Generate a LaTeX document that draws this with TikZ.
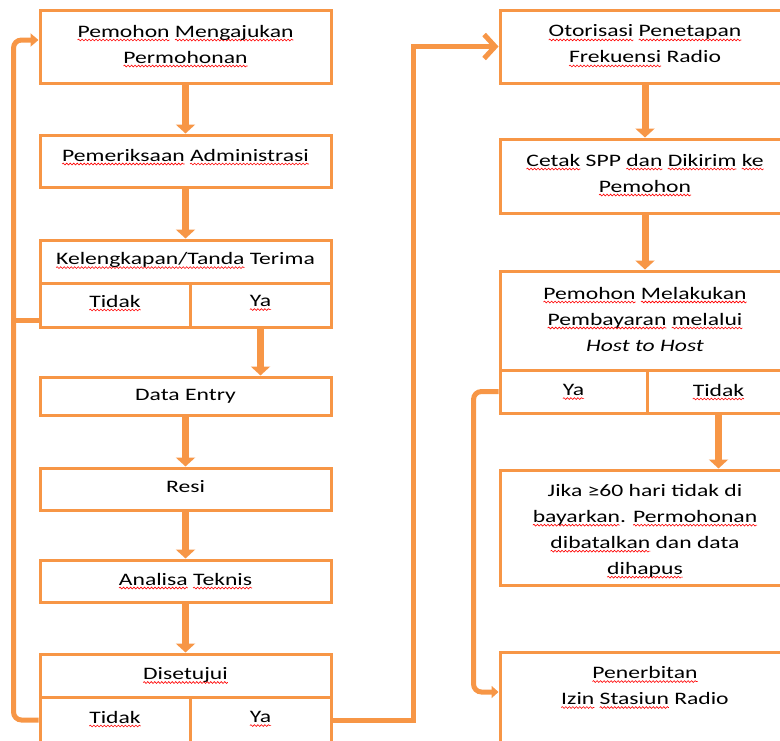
\documentclass[tikz,border=0pt]{standalone}
\usepackage{fontspec}
\setmainfont[FakeStretch=1.35]{Carlito}
\usetikzlibrary{arrows.meta,decorations.pathmorphing}
\definecolor{acc}{HTML}{F79646}
\newcommand\sq[1]{\leavevmode\setbox0=\hbox{#1}\rlap{\tikz[overlay]\draw[red, line width=0.6pt, decorate, decoration={snake, amplitude=0.9pt, segment length=3.5pt}] (0pt,-3pt) -- (\wd0,-3pt);}\box0\relax}
\tikzset{
  box/.style={draw=acc, line width=3pt, fill=white, inner sep=0pt},
  txt/.style={font=\fontsize{17.5}{26}\selectfont, align=center, inner sep=0pt, text=black},
  flow/.style={draw=acc, line width=7pt, -{Triangle[length=9pt,width=19pt]}},
  loopline/.style={draw=acc, line width=5pt, rounded corners=8pt},
  sharpline/.style={draw=acc, line width=5pt},
}
\begin{document}
\begin{tikzpicture}[x=1pt,y=-1pt]
\useasboundingbox (0,0) rectangle (780,740);
\clip (0,0) rectangle (780,740);
% ---------- left column ----------
\node[box, minimum width=291pt, minimum height=73pt] (b1) at (185.5,46.5) {};
\node[txt] (t1) at (185.5,44) {\sq{Pemohon} \sq{Mengajukan}\\\sq{Permohonan}};
\node[box, minimum width=291pt, minimum height=52pt] (b2) at (185.5,161) {};
\node[txt] (t2) at (185.5,155) {\sq{Pemeriksaan} \sq{Administrasi}};
\node[box, minimum width=291pt, minimum height=43pt] (k3h) at (185.5,261.5) {};
\node[txt] (t3) at (185.5,260) {\sq{Kelengkapan/Tanda} Terima};
\node[box, minimum width=150pt, minimum height=44pt] (k3t) at (115,305) {};
\node[txt] (t3t) at (115,301) {\sq{Tidak}};
\node[box, minimum width=141pt, minimum height=44pt] (k3y) at (260.5,305) {};
\node[txt] (t3y) at (260.5,301) {\sq{Ya}};
\node[box, minimum width=291pt, minimum height=38pt] (de) at (185.5,396) {};
\node[txt] (tde) at (185.5,396) {Data Entry};
\node[box, minimum width=291pt, minimum height=42pt] (resi) at (185.5,489) {};
\node[txt] (tresi) at (185.5,487) {Resi};
\node[box, minimum width=291pt, minimum height=42pt] (at) at (185.5,581) {};
\node[txt] (tat) at (185.5,579) {\sq{Analisa} \sq{Teknis}};
\node[box, minimum width=291pt, minimum height=43pt] (dh) at (185.5,675.5) {};
\node[txt] (tdh) at (185.5,675) {\sq{Disetujui}};
\node[box, minimum width=150pt, minimum height=46pt] (dt) at (115,720) {};
\node[txt] (tdt) at (115,717) {\sq{Tidak}};
\node[box, minimum width=141pt, minimum height=46pt] (dy) at (260.5,720) {};
\node[txt] (tdy) at (260.5,717) {\sq{Ya}};
% ---------- right column ----------
\node[box, minimum width=290pt, minimum height=73pt] (r1) at (645,46.5) {};
\node[txt] (tr1) at (645,44) {\sq{Otorisasi} \sq{Penetapan}\\\sq{Frekuensi} Radio};
\node[box, minimum width=290pt, minimum height=74pt] (r2) at (645,176) {};
\node[txt] (tr2) at (645,173) {\sq{Cetak} SPP \sq{dan} \sq{Dikirim} \sq{ke}\\\sq{Pemohon}};
\node[box, minimum width=290pt, minimum height=99pt] (r3h) at (645,320.5) {};
\node[txt] (tr3) at (645,319) {\sq{Pemohon} \sq{Melakukan}\\\sq{Pembayaran} \sq{melalui}\\\textit{Host to Host}};
\node[box, minimum width=147pt, minimum height=43pt] (r3y) at (573.5,391.5) {};
\node[txt] (tr3y) at (573.5,390) {\sq{Ya}};
\node[box, minimum width=143pt, minimum height=43pt] (r3t) at (718.5,391.5) {};
\node[txt] (tr3t) at (718.5,390) {\sq{Tidak}};
\node[box, minimum width=290pt, minimum height=115pt] (r4) at (645,527.5) {};
\node[txt] (tr4) at (645,530.5) {\frenchspacing Jika ≥60 hari tidak di\\\sq{bayarkan}. \sq{Permohonan}\\\sq{dibatalkan} dan data\\\sq{dihapus}};
\node[box, minimum width=290pt, minimum height=98pt] (r5) at (645,701) {};
\node[txt] (tr5) at (645,685.5) {\sq{Penerbitan}\\\sq{Izin} \sq{Stasiun} Radio};
% ---------- connectors ----------
\draw[flow] (b1) -- (b2);
\draw[flow] (b2) -- (k3h);
\draw[flow] (k3y.south) -- (k3y.south |- de.north);
\draw[flow] (de) -- (resi);
\draw[flow] (resi) -- (at);
\draw[flow] (at) -- (dh);
\draw[flow] (r1) -- (r2);
\draw[flow] (r2) -- (r3h);
\draw[flow] (r3t.south) -- (r3t.south |- r4.north);
\coordinate (b1in) at ([yshift=6.5pt]b1.west);
\draw[loopline, -{Triangle[length=8pt,width=13pt]}] (dt.west) -| ([xshift=-25pt]b1in) -- (b1in);
\draw[loopline] ([yshift=-15pt]k3t.west) -- ++(-25,0);
\draw[sharpline, -{Straight Barb[length=11pt,width=24pt]}] (dy.east) -| ([xshift=-85pt]r1.west) -- (r1.west);
\coordinate (r5in) at ([yshift=9pt]r5.west);
\draw[loopline, -{Triangle[length=7pt,width=12pt]}] (r3y.west) -| ([xshift=-25pt]r5in) -- (r5in);
\end{tikzpicture}
\end{document}
